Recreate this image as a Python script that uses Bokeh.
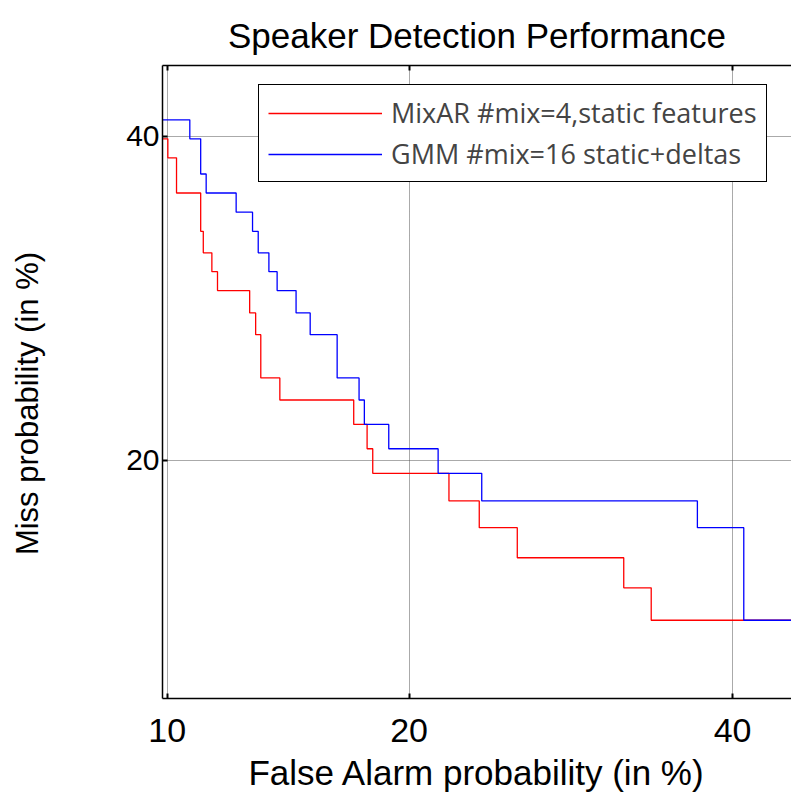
from statistics import NormalDist
from bokeh.plotting import figure
from bokeh.models import Range1d, FixedTicker, LinearAxis, Legend, LegendItem, CustomJSTickFormatter
from bokeh.embed import file_html
from bokeh.resources import INLINE

# ---- data (percent) ----
tick_pct = [10, 20, 40]
tick_labels = ["10", "20", "40"]

mixar_fa = [9.5, 10.02, 10.30, 11.11, 11.20, 11.50, 11.70, 12.89, 13.12, 13.32, 14.08,
            17.30, 17.93, 18.20, 22.09, 23.76, 25.95, 32.59, 34.41, 50.0]
mixar_miss = [39.82, 38.50, 36.08, 33.51, 32.10, 30.89, 29.69, 28.30, 26.98, 24.45, 23.21,
              21.88, 20.60, 19.35, 18.01, 16.76, 15.43, 14.17, 12.89, 12.89]

gmm_fa = [9.5, 10.74, 11.11, 11.30, 12.38, 13.00, 13.22, 13.64, 13.97, 14.75, 15.35,
          16.54, 17.55, 17.80, 18.98, 21.51, 23.90, 37.55, 40.79, 50.0]
gmm_miss = [41.16, 39.82, 37.38, 36.08, 34.79, 33.51, 32.10, 30.89, 29.69, 28.30, 26.98,
            24.45, 23.21, 21.88, 20.60, 19.35, 18.01, 16.76, 12.89, 12.89]

x_lim_pct = (9.85, 44.19)
y_lim_pct = (10.14, 45.03)

nd = NormalDist()
def probit(pct):
    return nd.inv_cdf(pct / 100.0)

FONT = "Liberation Sans"

p = figure(width=791, height=796, output_backend="svg", toolbar_location=None,
           x_range=Range1d(probit(x_lim_pct[0]), probit(x_lim_pct[1])),
           y_range=Range1d(probit(y_lim_pct[0]), probit(y_lim_pct[1])),
           min_border_left=162, min_border_right=0, min_border_top=65, min_border_bottom=98,
           title="Speaker Detection Performance")
p.outline_line_color = None
p.background_fill_color = "white"
p.border_fill_color = "white"

p.title.align = "center"
p.title.text_font = FONT
p.title.text_font_size = "35px"
p.title.text_font_style = "normal"
p.title.text_color = "black"
p.title.text_line_height = 1.0
p.title.standoff = 22

ticks = [probit(t) for t in tick_pct]
fmt = CustomJSTickFormatter(args=dict(tv=ticks, tl=tick_labels), code="""
    for (let i = 0; i < tv.length; i++) { if (Math.abs(tick - tv[i]) < 1e-6) return tl[i]; }
    return "";
""")

for ax in (p.xaxis[0], p.yaxis[0]):
    ax.ticker = FixedTicker(ticks=ticks)
    ax.formatter = fmt
    ax.major_tick_in = 5
    ax.major_tick_out = 0
    ax.minor_tick_in = 0
    ax.minor_tick_out = 0
    ax.axis_line_color = "black"
    ax.axis_line_width = 1.5
    ax.major_tick_line_width = 2
    ax.major_label_text_font = FONT
    ax.major_label_text_color = "black"
    ax.axis_label_text_font = FONT
    ax.axis_label_text_font_style = "normal"
    ax.axis_label_text_color = "black"

p.xaxis[0].axis_label = "False Alarm probability (in %)"
p.yaxis[0].axis_label = "Miss probability (in %)\u00a0\u00a0\u00a0\u00a0\u00a0"
p.xaxis[0].major_label_text_font_size = "34px"
p.yaxis[0].major_label_text_font_size = "30px"
p.xaxis[0].axis_label_text_font_size = "35px"
p.yaxis[0].axis_label_text_font_size = "31px"
p.xaxis[0].major_label_standoff = 20
p.xaxis[0].axis_label_standoff = 8
p.yaxis[0].major_label_standoff = 3
p.yaxis[0].axis_label_standoff = 78
p.yaxis[0].major_label_orientation = "horizontal"

top = LinearAxis(ticker=FixedTicker(ticks=ticks), formatter=fmt,
                 major_tick_in=5, major_tick_out=0, minor_tick_in=0, minor_tick_out=0,
                 major_label_text_font_size="0px", major_label_standoff=0,
                 axis_label_standoff=0,
                 axis_line_color="black", axis_line_width=1.5, major_tick_line_width=2)
p.add_layout(top, "above")

for g in (p.xgrid[0], p.ygrid[0]):
    g.ticker = FixedTicker(ticks=ticks)
    g.grid_line_color = "#555555"
    g.grid_line_dash = "1 1"
    g.grid_line_width = 1

x_red = [probit(v) for v in mixar_fa]
y_red = [probit(v) for v in mixar_miss]
x_blue = [probit(v) for v in gmm_fa]
y_blue = [probit(v) for v in gmm_miss]

r_red = p.step(x_red, y_red, mode="after", line_color="#ff0000", line_width=1.3)
r_blue = p.step(x_blue, y_blue, mode="after", line_color="#0000ff", line_width=1.3)

legend = Legend(items=[LegendItem(label="MixAR #mix=4,static features", renderers=[r_red]),
                       LegendItem(label="GMM #mix=16 static+deltas", renderers=[r_blue])],
                location=(96, 516), orientation="vertical",
                glyph_width=114, glyph_height=20, label_height=20, spacing=4,
                padding=9, margin=0, label_standoff=9,
                label_text_font="Open Sans", label_text_font_size="27px",
                border_line_color="black", border_line_width=1.5, border_line_alpha=1.0,
                background_fill_alpha=1.0)
p.add_layout(legend, "center")

open("out.html", "w").write(file_html(p, INLINE))
